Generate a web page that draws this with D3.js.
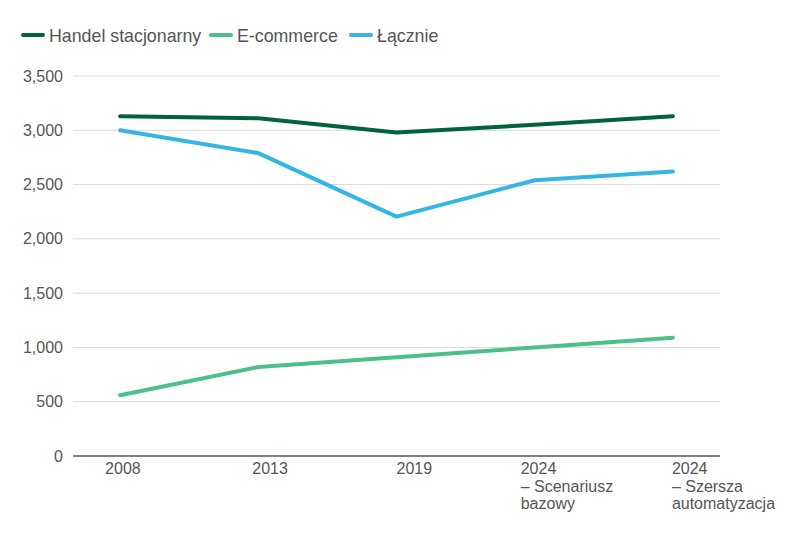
<!DOCTYPE html>
<html>
<head>
<meta charset="utf-8">
<script src="https://cdn.jsdelivr.net/npm/d3@7"></script>
<style>
  html, body { margin: 0; padding: 0; background: #fff; }
  svg { display: block; font-family: "Liberation Sans", Arial, sans-serif; }
</style>
</head>
<body>
<svg id="chart" width="810" height="546"></svg>
<script>
// ---- Data ----
const categories = ["2008", "2013", "2019", "2024 – Scenariusz bazowy", "2024 – Szersza automatyzacja"];
const categoryLines = [["2008"], ["2013"], ["2019"], ["2024", "– Scenariusz", "bazowy"], ["2024", "– Szersza", "automatyzacja"]];
const handelStacjonarny = [3130, 3110, 2980, 3050, 3130];
const eCommerce = [560, 820, 910, 1000, 1090];
const lacznie = [3000, 2790, 2205, 2540, 2620];
const seriesNames = ["Handel stacjonarny", "E-commerce", "Łącznie"];
const yTicks = [0, 500, 1000, 1500, 2000, 2500, 3000, 3500];

// ---- Layout ----
(function () {
const colors = ["#00633a", "#4cc08a", "#35b5e6"];
const labelDx = [-15, -6, 0, -14, -1];
const svg = d3.select("#chart");
const plotLeft = 73, plotRight = 720, plotTop = 76, plotBottom = 456;

const x = d3.scalePoint().domain(categories).range([plotLeft, plotRight]).padding(0.341);
const y = d3.scaleLinear().domain([0, 3500]).range([plotBottom, plotTop]);

// gridlines
svg.append("g").selectAll("line")
  .data(yTicks.filter(t => t > 0))
  .join("line")
  .attr("x1", plotLeft).attr("x2", plotRight)
  .attr("y1", d => y(d)).attr("y2", d => y(d))
  .attr("stroke", "#d9d9d9").attr("stroke-width", 1);

// y tick labels
svg.append("g").selectAll("text")
  .data(yTicks)
  .join("text")
  .attr("x", 63).attr("y", d => y(d))
  .attr("dy", "0.35em")
  .attr("text-anchor", "end")
  .attr("font-size", 16)
  .attr("fill", "#555")
  .text(d => d3.format(",")(d));

// x axis line
svg.append("line")
  .attr("x1", plotLeft).attr("x2", plotRight)
  .attr("y1", plotBottom).attr("y2", plotBottom)
  .attr("stroke", "#555").attr("stroke-width", 1.5);

// x labels
const xl = svg.append("g").selectAll("text")
  .data(categories)
  .join("text")
  .attr("x", (d, i) => x(d) + labelDx[i])
  .attr("y", 474)
  .attr("font-size", 16)
  .attr("fill", "#555");
xl.each(function (d, i) {
  const t = d3.select(this);
  categoryLines[i].forEach((s, j) => {
    t.append("tspan").attr("x", x(d) + labelDx[i]).attr("dy", j === 0 ? 0 : 17.5).text(s);
  });
});

// lines
const allSeries = [handelStacjonarny, eCommerce, lacznie];
const line = d3.line().x((d, i) => x(categories[i])).y(d => y(d));
svg.append("g").selectAll("path")
  .data(allSeries)
  .join("path")
  .attr("d", d => line(d))
  .attr("fill", "none")
  .attr("stroke", (d, i) => colors[i])
  .attr("stroke-width", 4)
  .attr("stroke-linejoin", "round")
  .attr("stroke-linecap", "round");

// legend
const legendX = [23, 211, 351];
const lg = svg.append("g").selectAll("g")
  .data(seriesNames)
  .join("g")
  .attr("transform", (d, i) => `translate(${legendX[i]},35)`);
lg.append("line")
  .attr("x1", 0).attr("x2", 20).attr("y1", 0).attr("y2", 0)
  .attr("stroke", (d, i) => colors[i]).attr("stroke-width", 4).attr("stroke-linecap", "round");
lg.append("text")
  .attr("x", 26).attr("y", 7)
  .attr("font-size", 17.8)
  .attr("fill", "#555")
  .text(d => d);
})();
</script>
</body>
</html>
